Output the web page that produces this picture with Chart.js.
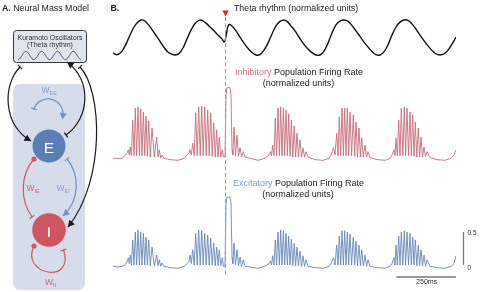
<!DOCTYPE html>
<html><head><meta charset="utf-8">
<script src="https://cdn.jsdelivr.net/npm/chart.js@4/dist/chart.umd.min.js"></script>
<style>
html,body{margin:0;padding:0;background:#fff;}
#wrap{position:relative;width:480px;height:292px;overflow:hidden;font-family:"Liberation Sans",Arial,sans-serif;color:#222;}
#c{position:absolute;left:0;top:0;}
.t{position:absolute;white-space:nowrap;line-height:1;}
.c{text-align:center;width:200px;}
.w sub{font-size:5.5px;vertical-align:-1.5px;line-height:0;}
</style></head><body>
<div id="wrap">
<canvas id="c" width="480" height="292"></canvas>
<div class="t" style="left:2px;top:4px;font-size:8.8px"><b>A.</b> Neural Mass Model</div>
<div class="t" style="left:110.5px;top:4px;font-size:8.8px"><b>B.</b></div>
<div class="t" style="left:234px;top:3.6px;font-size:8.8px">Theta rhythm (normalized units)</div>
<div class="t c" style="left:199px;top:68.2px;font-size:9px"><span style="color:#c97a86">Inhibitory</span> Population Firing Rate</div>
<div class="t c" style="left:198.5px;top:79.2px;font-size:9px">(normalized units)</div>
<div class="t c" style="left:198.5px;top:179.2px;font-size:9px"><span style="color:#7d9dcc">Excitatory</span> Population Firing Rate</div>
<div class="t c" style="left:198px;top:189.6px;font-size:9px">(normalized units)</div>
<div class="t" style="left:467.5px;top:229.5px;font-size:6.5px;color:#333">0.5</div>
<div class="t" style="left:467.5px;top:264.5px;font-size:6.5px;color:#333">0</div>
<div class="t" style="left:416px;top:279px;font-size:7.1px;color:#333">250ms</div>
<div class="t" style="left:14px;top:34px;width:72px;text-align:center;font-size:7px;color:#333">Kuramoto Oscillators</div>
<div class="t" style="left:14px;top:41.4px;width:72px;text-align:center;font-size:7px;color:#333">(Theta rhythm)</div>
<div class="t" style="left:36px;top:139.5px;width:26px;text-align:center;font-size:15.5px;color:#fff">E</div>
<div class="t" style="left:36px;top:223.5px;width:26px;text-align:center;font-size:15.5px;color:#fff">I</div>
<div class="t w" style="left:41.5px;top:85.8px;font-size:8.5px;color:#86a2ce">W<sub>EE</sub></div>
<div class="t w" style="left:26.5px;top:184.3px;font-size:8.5px;color:#cc6a75">W<sub>IE</sub></div>
<div class="t w" style="left:56.5px;top:184.3px;font-size:8.5px;color:#86a2ce">W<sub>EI</sub></div>
<div class="t w" style="left:45px;top:278px;font-size:8.5px;color:#cc6a75">W<sub>II</sub></div>
</div>
<script>
// ---- data (time in ms, values in normalized units) ----
const thetaT = [0,12.6,25.2,37.8,54.6,71.4,88.2,105,117.6,130.2,
142.8,159.6,176.4,193.2,210,226.8,243.6,260.4,277.2,294,
310.8,327.6,344.4,361.2,373.8,390.6,407.4,424.2,441,457.8,
468.3,474.6,483,489.3,499.8,516.6,533.4,550.2,567,583.8,
600.6,617.4,634.2,651,667.8,684.6,701.4,718.2,730.8,747.6,
764.4,781.2,798,814.8,831.6,852.6,869.4,886.2,903,919.8,
936.6,953.4,970.2,987,1003.8,1020.6,1037.4,1054.2,1071,1087.8,
1104.6,1121.4,1138.2,1155,1171.8,1188.6,1205.4,1222.2,1239,1255.8,
1272.6,1289.4,1306.2,1323,1339.8,1356.6,1373.4,1390.2,1407,1423.8,
1440.6];
const thetaV = [0.06,0.01,0.03,0.11,0.31,0.57,0.80,0.94,1.00,0.99,
0.91,0.77,0.60,0.43,0.26,0.11,0.03,0.00,0.04,0.20,
0.46,0.71,0.90,0.99,0.99,0.91,0.80,0.69,0.57,0.46,
0.37,0.54,0.83,0.87,0.83,0.69,0.51,0.34,0.19,0.07,
0.00,0.01,0.14,0.34,0.60,0.83,0.96,1.00,0.96,0.83,
0.69,0.51,0.34,0.20,0.09,0.00,0.00,0.11,0.34,0.63,
0.86,0.97,1.00,0.96,0.84,0.69,0.53,0.37,0.23,0.10,
0.01,0.00,0.09,0.29,0.57,0.80,0.94,1.00,0.99,0.89,
0.74,0.57,0.41,0.26,0.13,0.03,0.00,0.03,0.14,0.31,
0.51];
const rateT = [0,21,37.8,50.4,58.8,
64.3,68.5,72.7,77.3,82.7,88.2,93.7,99.1,105,110.9,116.3,121.8,127.7,133.1,138.6,144.5,149.9,156.7,163.8,173.5,183.5,189,194.5,200.3,205.8,214.2,
239.4,273,298.2,310.8,
319.2,323.4,328.9,334.7,341,347.3,353.6,359.9,366.2,372.5,378.8,385.1,391.4,397.7,404,410.3,416.6,422.9,429.2,435.5,441,446.5,452.8,459.1,464.1,470.4,
474.6,478.8,491.4,495.6,499.8,503.2,508.2,514.5,520.8,527.1,533.4,540.1,547.3,554.4,575.4,
609,638.4,655.2,
661.5,665.7,670.7,676.2,681.7,687.1,693,698.9,704.3,709.8,715.7,721.1,726.6,732.5,737.9,743.4,749.3,755.2,761,766.9,772.8,778.7,785.4,791.7,798,804.3,810.6,819,
848.4,882,907.2,915.6,
926.1,932.4,939.5,945,950.5,956.3,961.8,967.7,973.1,978.6,984.1,989.9,995.4,1002.1,1009.3,1015.1,1020.6,1026.9,1033.2,1039.1,1044.5,1051.3,1058.4,1064.7,1071,1079.4,
1108.8,1142.4,1163.4,1171.8,
1180.2,1184.4,1188.6,1194.1,1199.9,1205.4,1210.9,1217.2,1223.5,1228.9,1234.8,1241.1,1247.4,1252.9,1258.7,1264.2,1269.7,1276,1282.3,1287.7,1293.6,1299.9,1306.2,1312.5,1318.8,1331.4,
1360.8,1394.4,1419.6,1432.2,1440.6];
const inhibV = [-0.02,-0.02,-0.02,0.02,0.06,
0.11,0.03,0.15,0.02,0.56,0.02,0.74,0.02,0.76,0.02,0.73,0.02,0.68,0.02,0.62,0.01,0.55,0,0.44,0,0.30,0,0.11,-0.01,0.03,-0.02,
-0.04,-0.05,-0.02,0.03,
0.06,0.11,0.03,0.21,0.02,0.67,0.02,0.76,0.02,0.77,0.02,0.76,0.02,0.71,0.02,0.67,0.01,0.52,0,0.41,0,0.30,0,0.11,0,0,
0.94,1.05,1.05,0.94,0.11,0.03,0.45,0.02,0.33,0.01,0.14,0,0.08,0,-0.02,
-0.05,-0.02,0.03,
0.08,0.02,0.18,0.02,0.59,0.02,0.74,0.02,0.76,0.02,0.74,0.02,0.71,0.02,0.65,0.01,0.56,0,0.47,0,0.36,0,0.26,0,0.14,0,0.08,0,
-0.04,-0.05,-0.02,0.03,
0.14,0.03,0.36,0.02,0.61,0.02,0.74,0.02,0.74,0.02,0.74,0.02,0.68,0.02,0.64,0.01,0.53,0,0.44,0,0.29,0,0.18,0,0.08,-0.01,
-0.04,-0.05,-0.02,0.03,
0.11,0.02,0.29,0.02,0.56,0.02,0.74,0.02,0.76,0.02,0.74,0.02,0.68,0.02,0.64,0.01,0.53,0,0.44,0,0.30,0,0.15,0,0.08,-0.01,
-0.04,-0.05,-0.02,0.03,0.11];
const excitV = [-0.02,-0.03,-0.02,0,0.05,
0.11,0.02,0.15,0,0.38,0,0.50,0,0.53,0,0.50,0,0.48,0,0.42,0,0.38,-0.01,0.27,-0.01,0.15,-0.01,0.08,-0.02,0.03,-0.02,
-0.04,-0.05,-0.02,0.02,
0.05,0.15,0.02,0.23,0,0.48,0,0.53,0,0.52,0,0.48,0,0.45,0,0.41,0,0.33,-0.01,0.27,-0.01,0.23,-0.01,0.11,-0.02,-0.02,
0.94,1.03,1.03,0.94,0.11,0.02,0.33,0,0.23,-0.01,0.12,-0.02,0.08,-0.02,-0.03,
-0.05,-0.02,0.02,
0.06,0,0.14,0,0.38,0,0.50,0,0.53,0,0.52,0,0.48,0,0.44,0,0.39,-0.01,0.33,-0.01,0.27,-0.01,0.21,-0.02,0.14,-0.02,0.08,-0.02,
-0.04,-0.05,-0.02,0.02,
0.11,0,0.30,0,0.44,0,0.52,0,0.52,0,0.50,0,0.47,0,0.42,0,0.36,-0.01,0.30,-0.01,0.23,-0.01,0.15,-0.02,0.08,-0.02,
-0.04,-0.05,-0.02,0.02,
0.11,0,0.30,0,0.44,0,0.50,0,0.52,0,0.50,0,0.48,0,0.42,0,0.38,-0.01,0.30,-0.01,0.23,-0.01,0.15,-0.02,0.08,-0.02,
-0.04,-0.05,-0.02,0.02,0.14];
const stimT = 470;          // stimulus time (ms)
const scaleBarT = [1190, 1440]; // 250 ms
const scaleBarV = [0, 0.5];

// ---- panel A diagram helpers ----
function rr(c,x,y,w,h,r){c.beginPath();c.moveTo(x+r,y);c.arcTo(x+w,y,x+w,y+h,r);c.arcTo(x+w,y+h,x,y+h,r);c.arcTo(x,y+h,x,y,r);c.arcTo(x,y,x+w,y,r);c.closePath();}
function head(c,x,y,a,s,col){c.save();c.translate(x,y);c.rotate(a);c.beginPath();c.moveTo(0,0);c.lineTo(-s,-s*0.55);c.lineTo(-s,s*0.55);c.closePath();c.fillStyle=col;c.fill();c.restore();}
function tbar(c,x,y,a,l,col,lw){c.save();c.translate(x,y);c.rotate(a);c.beginPath();c.moveTo(0,-l/2);c.lineTo(0,l/2);c.strokeStyle=col;c.lineWidth=lw;c.stroke();c.restore();}
function bz(c,p,col,lw,startT,endT){
  c.beginPath();c.moveTo(p[0],p[1]);c.bezierCurveTo(p[2],p[3],p[4],p[5],p[6],p[7]);
  c.strokeStyle=col;c.lineWidth=lw;c.stroke();
  const a0=Math.atan2(p[1]-p[3],p[0]-p[2]), a1=Math.atan2(p[7]-p[5],p[6]-p[4]);
  if(startT==='T') tbar(c,p[0],p[1],a0,6,col,lw); else if(startT==='D'){c.beginPath();c.arc(p[0],p[1],2.6,0,Math.PI*2);c.fillStyle=col;c.fill();}
  if(endT==='A') head(c,p[6],p[7],a1,6.5,col); else if(endT==='T') tbar(c,p[6],p[7],a1,6,col,lw);
}
function drawPanelA(c){
  c.save();
  rr(c,13,84,72,206,7); c.fillStyle='#d6dcea'; c.fill();
  rr(c,13.5,30.5,73,32,3); c.fillStyle='#dfe4ee'; c.fill(); c.strokeStyle='#3a3a3a'; c.lineWidth=1; c.stroke();
  // decorative wave in box
  c.beginPath();
  for(let x=18;x<=81;x+=0.5){const y=55.5+4.2*Math.cos(2*Math.PI*(x-18)/15.8); if(x===18)c.moveTo(x,y); else c.lineTo(x,y);}
  c.strokeStyle='#444'; c.lineWidth=0.9; c.stroke();
  // circles
  c.beginPath(); c.arc(49,146,16.5,0,Math.PI*2); c.fillStyle='#5b7fb4'; c.fill();
  c.beginPath(); c.arc(49,230,16.8,0,Math.PI*2); c.fillStyle='#cf5661'; c.fill();
  const blue='#6f92c6', red='#cc5964', blk='#1a1a1a';
  // W_EE self loop
  c.beginPath(); c.arc(48,114,15,200*Math.PI/180,370*Math.PI/180); c.strokeStyle=blue; c.lineWidth=1.2; c.stroke();
  const aS=200*Math.PI/180, aE=370*Math.PI/180;
  tbar(c,48+15*Math.cos(aS),114+15*Math.sin(aS),aS-Math.PI/2,6,blue,1.2);
  head(c,48+15*Math.cos(aE)-0.5,114+15*Math.sin(aE)+3,aE+Math.PI/2,6.5,blue);
  // black connections
  bz(c,[20,67, 3,84, 2,124, 31,141],blk,1.2,'T','A');
  bz(c,[66,135, 90,118, 92,80, 67,62],blk,1.2,'T','A');
  bz(c,[80,67, 102,90, 106,180, 68,227],blk,1.2,'T','A');
  // E-I connections
  bz(c,[34,159, 20,175, 20,200, 32,217],red,1.2,'D','T');
  bz(c,[67,159, 80,175, 80,200, 63,216],blue,1.2,'T','A');
  bz(c,[34,246, 20,275, 75,285, 63.5,250],red,1.2,'D','T');
  c.restore();
}

const deco = {
  id:'deco',
  beforeDatasetsDraw(chart){ drawPanelA(chart.ctx); },
  afterDatasetsDraw(chart){
    const c=chart.ctx, xs=chart.scales.x, yE=chart.scales.yE;
    const sx=Math.round(xs.getPixelForValue(stimT))+0.5;
    c.save();
    c.strokeStyle='#9a9a9a'; c.lineWidth=1; c.setLineDash([4,2.5]);
    c.beginPath(); c.moveTo(sx,17); c.lineTo(sx,276); c.stroke();
    c.setLineDash([]);
    c.beginPath(); c.moveTo(sx-3.2,10.5); c.lineTo(sx+3.2,10.5); c.lineTo(sx,16.5); c.closePath();
    c.fillStyle='#e2231e'; c.fill();
    c.strokeStyle='#7a7a7a'; c.lineWidth=1.3;
    const bx=chart.chartArea.right+7.5;
    c.beginPath(); c.moveTo(bx,yE.getPixelForValue(scaleBarV[0])); c.lineTo(bx,yE.getPixelForValue(scaleBarV[1])); c.stroke();
    c.beginPath(); c.moveTo(xs.getPixelForValue(scaleBarT[0]),277); c.lineTo(xs.getPixelForValue(scaleBarT[1]),277); c.stroke();
    c.restore();
  }
};

const pts=(t,v)=>t.map((x,i)=>({x:x,y:v[i]}));
new Chart(document.getElementById('c'),{
  type:'line',
  data:{datasets:[
    {data:pts(thetaT,thetaV),yAxisID:'yT',borderColor:'#111',borderWidth:1.4,tension:0.35,pointRadius:0,fill:false},
    {data:pts(rateT,inhibV),yAxisID:'yI',borderColor:'#c86d7b',borderWidth:0.9,tension:0,pointRadius:0,borderJoinStyle:'round',fill:false},
    {data:pts(rateT,excitV),yAxisID:'yE',borderColor:'#6888b8',borderWidth:0.9,tension:0,pointRadius:0,borderJoinStyle:'round',fill:false}
  ]},
  options:{
    responsive:false,animation:false,events:[],
    layout:{padding:{left:113,right:24,top:0,bottom:0}},
    plugins:{legend:{display:false},tooltip:{enabled:false},title:{display:false}},
    scales:{
      x:{type:'linear',min:0,max:1440.6,display:false},
      yT:{type:'linear',min:-6.7714,max:1.5714,display:false},
      yI:{type:'linear',min:-2.0455,max:2.3788,display:false},
      yE:{type:'linear',min:-0.4091,max:4.0152,display:false}
    }
  },
  plugins:[deco]
});
</script>
</body></html>
